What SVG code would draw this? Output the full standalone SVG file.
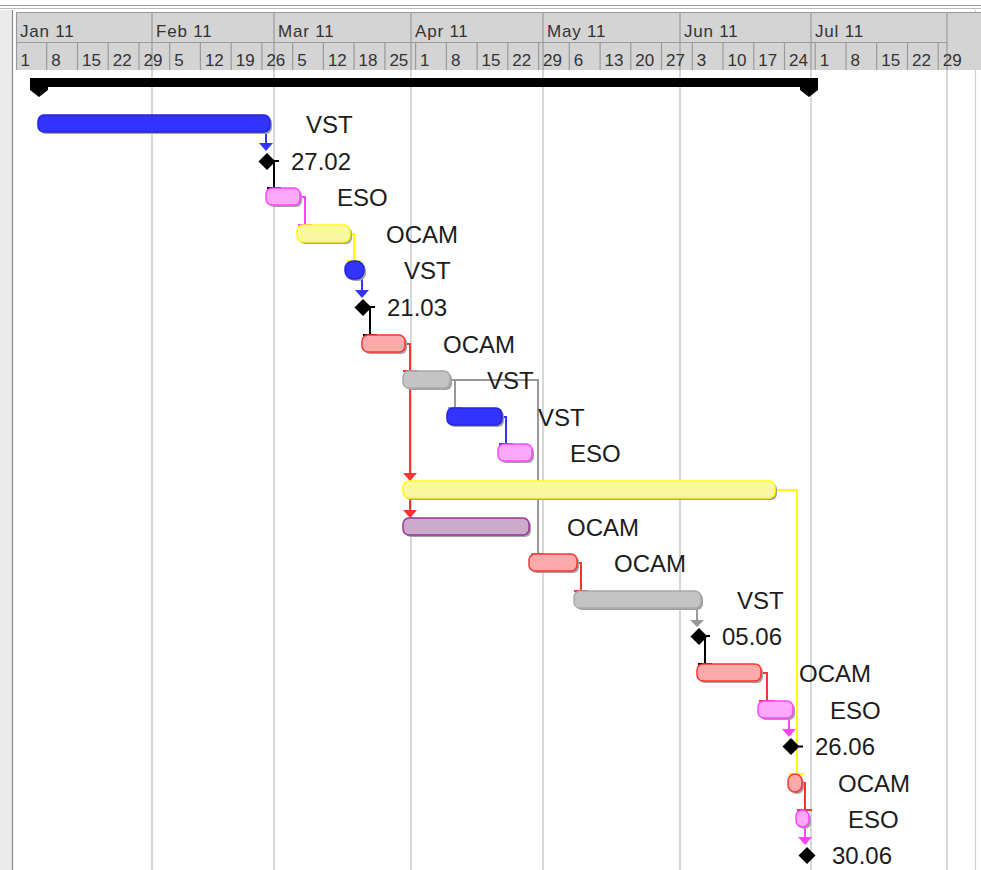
<svg xmlns="http://www.w3.org/2000/svg" width="981" height="870" viewBox="0 0 981 870">
<style>
.hdr{fill:#d4d4d4}
.hl{stroke:#9a9a9a;stroke-width:1.2;fill:none}
.grid{stroke:#cdcdcd;stroke-width:1.6;fill:none}
.mt{font-family:"Liberation Sans",Arial,sans-serif;font-size:17px;fill:#333;letter-spacing:0.8px}
.wt{font-family:"Liberation Sans",Arial,sans-serif;font-size:17px;fill:#333}
.lbl{font-family:"Liberation Sans",Arial,sans-serif;font-size:24px;fill:#1c1c1c}
.sh{fill:#a0a0a0}
.blue{fill:#3333ff;stroke:#2424e0;stroke-width:1.5}
.pink{fill:#ffa8ff;stroke:#ff44ff;stroke-width:1.5}
.yel{fill:#f8f8a2;stroke:#ffff10;stroke-width:1.5}
.red{fill:#ffaaaa;stroke:#ff3333;stroke-width:1.5}
.gray{fill:#c4c4c4;stroke:#a8a8a8;stroke-width:1.5}
.purp{fill:#ccaacc;stroke:#993399;stroke-width:1.5}
.ms{fill:#000}
.c{fill:none;stroke-width:2}
.cb{stroke:#3333ff}.cp{stroke:#ff44ff}.cy{stroke:#ffff00}.cr{stroke:#ff3333}.cg{stroke:#999}.ck{stroke:#000}
.ab{fill:#3333ff}.ap{fill:#ff44ff}.ar{fill:#ff3333}.ag{fill:#999}
</style>
<rect x="0" y="0" width="981" height="870" fill="#fff"/>
<g id="frame">
<rect x="0" y="10" width="12" height="860" fill="#ebebeb"/>
<line x1="12.5" y1="10" x2="12.5" y2="870" stroke="#888" stroke-width="1.2"/>
<line x1="0" y1="5.5" x2="981" y2="5.5" stroke="#999" stroke-width="1"/>
<line x1="0" y1="8.5" x2="981" y2="8.5" stroke="#bbb" stroke-width="1"/>
<line x1="975.5" y1="10" x2="975.5" y2="870" stroke="#d0d0d0" stroke-width="1.2"/>
</g>
<g id="grid">
<path class="grid" d="M152,70V870M274,70V870M411,70V870M543,70V870M680,70V870M811,70V870M947,70V870"/>
</g>
<g id="header">
<rect class="hdr" x="16" y="12" width="965" height="58"/>
<path class="hl" d="M16,12.5H981M16.5,12V70M16,42.5H947"/>
<path class="hl" d="M152,12V70M274,12V70M411,12V70M543,12V70M680,12V70M811,12V70M947,12V70"/>
<path class="hl" d="M46.7,42V70M77.5,42V70M108.2,42V70M139,42V70M169.7,42V70M200.4,42V70M231.2,42V70M261.9,42V70M292.7,42V70M323.4,42V70M354.1,42V70M384.9,42V70M415.6,42V70M446.4,42V70M477.1,42V70M507.8,42V70M538.6,42V70M569.3,42V70M600.1,42V70M630.8,42V70M661.5,42V70M692.3,42V70M723,42V70M753.8,42V70M784.5,42V70M815.2,42V70M846,42V70M876.7,42V70M907.5,42V70M938.2,42V70"/>
<text class="mt" x="20" y="37">Jan 11</text>
<text class="mt" x="156" y="37">Feb 11</text>
<text class="mt" x="278" y="37">Mar 11</text>
<text class="mt" x="415" y="37">Apr 11</text>
<text class="mt" x="547" y="37">May 11</text>
<text class="mt" x="684" y="37">Jun 11</text>
<text class="mt" x="815" y="37">Jul 11</text>
<text class="wt" x="20.5" y="65.5">1</text>
<text class="wt" x="51.2" y="65.5">8</text>
<text class="wt" x="82" y="65.5">15</text>
<text class="wt" x="112.7" y="65.5">22</text>
<text class="wt" x="143.5" y="65.5">29</text>
<text class="wt" x="174.2" y="65.5">5</text>
<text class="wt" x="204.9" y="65.5">12</text>
<text class="wt" x="235.7" y="65.5">19</text>
<text class="wt" x="266.4" y="65.5">26</text>
<text class="wt" x="297.2" y="65.5">5</text>
<text class="wt" x="327.9" y="65.5">12</text>
<text class="wt" x="358.6" y="65.5">18</text>
<text class="wt" x="389.4" y="65.5">25</text>
<text class="wt" x="420.1" y="65.5">1</text>
<text class="wt" x="450.9" y="65.5">8</text>
<text class="wt" x="481.6" y="65.5">15</text>
<text class="wt" x="512.3" y="65.5">22</text>
<text class="wt" x="543.1" y="65.5">29</text>
<text class="wt" x="573.8" y="65.5">6</text>
<text class="wt" x="604.6" y="65.5">13</text>
<text class="wt" x="635.3" y="65.5">20</text>
<text class="wt" x="666" y="65.5">27</text>
<text class="wt" x="696.8" y="65.5">3</text>
<text class="wt" x="727.5" y="65.5">10</text>
<text class="wt" x="758.3" y="65.5">17</text>
<text class="wt" x="789" y="65.5">24</text>
<text class="wt" x="819.7" y="65.5">1</text>
<text class="wt" x="850.5" y="65.5">8</text>
<text class="wt" x="881.2" y="65.5">15</text>
<text class="wt" x="912" y="65.5">22</text>
<text class="wt" x="942.7" y="65.5">29</text>
</g>
<g id="summary">
<path fill="#000" d="M30,78H818V90L809,97L800,90V87H48V90L39,97L30,90Z"/>
</g>
<g id="connectors">
<path class="c cb" d="M266,133V144"/>
<polygon class="ab" points="259,143 273,143 266,151"/>
<path class="c ck" d="M267,161H279M274,161V188M267,188H281"/>
<path class="c cp" d="M300,197H305V225M298,225H312"/>
<path class="c cy" d="M350,234H354V261M347,261H361"/>
<path class="c cb" d="M362,279V291"/>
<polygon class="ab" points="355,290 369,290 362,298"/>
<path class="c ck" d="M363,307H375M370,307V335M363,335H377"/>
<path class="c cr" d="M405,344H410V512M403,371H417"/>
<polygon class="ar" points="403,473 417,473 410,481"/>
<polygon class="ar" points="403,510 417,510 410,518"/>
<path class="c cg" d="M450,380H455V408M448,408H462"/>
<path class="c cg" d="M455,380H538V554M531,554H545"/>
<path class="c cb" d="M502,417H506V444M499,444H513"/>
<path class="c cy" d="M775,490H797V774M789,774H804"/>
<path class="c cr" d="M577,563H581V591M574,591H588"/>
<path class="c cg" d="M697,609V621"/>
<polygon class="ag" points="690,620 704,620 697,627"/>
<path class="c ck" d="M699,636H710M705,636V664M698,664H712"/>
<path class="c cr" d="M761,673H767V701M759,701H774"/>
<path class="c cp" d="M789,718V730"/>
<polygon class="ap" points="782,729 796,729 789,737"/>
<path class="c cr" d="M802,783H805V810M797,810H812"/>
<path class="c cp" d="M805,827V838"/>
<polygon class="ap" points="798,837 812,837 805,845"/>
</g>
<g id="t1"><rect class="sh" x="40" y="117" width="232" height="17" rx="6"/><rect class="blue" x="38" y="115" width="232" height="17" rx="6"/><text class="lbl" x="306" y="133">VST</text></g>
<g id="m1"><polygon class="ms" points="258.5,161.5 267,153 275.5,161.5 267,170"/><text class="lbl" x="291" y="170">27.02</text></g>
<g id="t3"><rect class="sh" x="268" y="190" width="34" height="17" rx="6"/><rect class="pink" x="266" y="188" width="34" height="17" rx="6"/><text class="lbl" x="337" y="206">ESO</text></g>
<g id="t4"><rect class="sh" x="299" y="227" width="53" height="17" rx="6"/><rect class="yel" x="297" y="225" width="53" height="17" rx="6"/><text class="lbl" x="386" y="243">OCAM</text></g>
<g id="t5"><rect class="sh" x="347" y="263" width="19" height="18" rx="8"/><rect class="blue" x="345" y="261" width="19" height="18" rx="8"/><text class="lbl" x="404" y="279">VST</text></g>
<g id="m2"><polygon class="ms" points="354.5,307.5 363,299 371.5,307.5 363,316"/><text class="lbl" x="387" y="316">21.03</text></g>
<g id="t7"><rect class="sh" x="364" y="337" width="43" height="17" rx="6"/><rect class="red" x="362" y="335" width="43" height="17" rx="6"/><text class="lbl" x="443" y="353">OCAM</text></g>
<g id="t8"><rect class="sh" x="405" y="373" width="47" height="17" rx="6"/><rect class="gray" x="403" y="371" width="47" height="17" rx="6"/><text class="lbl" x="487" y="389">VST</text></g>
<g id="t9"><rect class="sh" x="449" y="410" width="55" height="17" rx="6"/><rect class="blue" x="447" y="408" width="55" height="17" rx="6"/><text class="lbl" x="538" y="426">VST</text></g>
<g id="t10"><rect class="sh" x="500" y="446" width="34" height="17" rx="6"/><rect class="pink" x="498" y="444" width="34" height="17" rx="6"/><text class="lbl" x="570" y="462">ESO</text></g>
<g id="t11"><rect class="sh" x="405" y="483" width="372" height="17" rx="6"/><rect class="yel" x="403" y="481" width="372" height="17" rx="6"/></g>
<g id="t12"><rect class="sh" x="405" y="520" width="126" height="17" rx="6"/><rect class="purp" x="403" y="518" width="126" height="17" rx="6"/><text class="lbl" x="567" y="536">OCAM</text></g>
<g id="t13"><rect class="sh" x="531" y="556" width="48" height="17" rx="6"/><rect class="red" x="529" y="554" width="48" height="17" rx="6"/><text class="lbl" x="614" y="572">OCAM</text></g>
<g id="t14"><rect class="sh" x="576" y="593" width="127" height="17" rx="6"/><rect class="gray" x="574" y="591" width="127" height="17" rx="6"/><text class="lbl" x="737" y="609">VST</text></g>
<g id="m3"><polygon class="ms" points="690.5,636.5 699,628 707.5,636.5 699,645"/><text class="lbl" x="722" y="645">05.06</text></g>
<g id="t16"><rect class="sh" x="699" y="666" width="64" height="17" rx="6"/><rect class="red" x="697" y="664" width="64" height="17" rx="6"/><text class="lbl" x="799" y="682">OCAM</text></g>
<g id="t17"><rect class="sh" x="760" y="703" width="35" height="17" rx="6"/><rect class="pink" x="758" y="701" width="35" height="17" rx="6"/><text class="lbl" x="830" y="719">ESO</text></g>
<g id="m4"><polygon class="ms" points="782.5,746.5 791,738 799.5,746.5 791,755"/><line x1="791" y1="746.5" x2="803" y2="746.5" stroke="#000" stroke-width="2"/><text class="lbl" x="815" y="755">26.06</text></g>
<g id="t19"><rect class="sh" x="790" y="776" width="14" height="18" rx="7"/><rect class="red" x="788" y="774" width="14" height="18" rx="7"/><text class="lbl" x="838" y="792">OCAM</text></g>
<g id="t20"><rect class="sh" x="798" y="812" width="13" height="17" rx="6.5"/><rect class="pink" x="796" y="810" width="13" height="17" rx="6.5"/><text class="lbl" x="848" y="828">ESO</text></g>
<g id="m5"><polygon class="ms" points="798.5,855.5 807,847 815.5,855.5 807,864"/><text class="lbl" x="832" y="864">30.06</text></g>
</svg>
